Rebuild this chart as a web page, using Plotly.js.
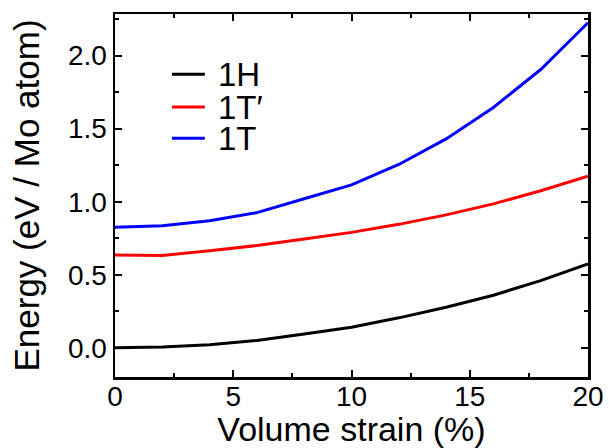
<!DOCTYPE html>
<html>
<head>
<meta charset="utf-8">
<script src="https://cdn.plot.ly/plotly-3.0.1.min.js"></script>
<style>html,body{margin:0;padding:0;background:#fff;}#chart{width:609px;height:448px;}</style>
</head>
<body>
<div id="chart"></div>
<script>
const strain = [0, 2, 4, 6, 8, 10, 12, 14, 16, 18, 20];
const energy1H = [0.0, 0.005, 0.02, 0.05, 0.095, 0.14, 0.205, 0.278, 0.36, 0.46, 0.575];
const energy1Tp = [0.635, 0.632, 0.665, 0.70, 0.745, 0.79, 0.845, 0.91, 0.985, 1.075, 1.175];
const energy1T = [0.825, 0.835, 0.87, 0.925, 1.02, 1.115, 1.255, 1.43, 1.645, 1.905, 2.225];
const seriesNames = ['1H', '1T\u2032', '1T'];
const seriesColors = ['#000000', '#ff0000', '#0000ff'];
const seriesValues = [energy1H, energy1Tp, energy1T];

const FONT = 'Liberation Sans, Arial, sans-serif';

const traces = seriesValues.map((vals, i) => ({
  x: strain, y: vals, type: 'scatter', mode: 'lines', name: seriesNames[i],
  line: {color: seriesColors[i], width: 3}, showlegend: false
}));

// manual legend (compact spacing like the reference)
const legX0 = 0.1205, legX1 = 0.19, legTextX = 0.2135;
const legY = [0.834, 0.744, 0.658];
const shapes = [], annotations = [];
seriesNames.forEach((n, i) => {
  shapes.push({type: 'line', xref: 'paper', yref: 'paper', x0: legX0, x1: legX1, y0: legY[i], y1: legY[i],
    line: {color: seriesColors[i], width: 3}});
  annotations.push({xref: 'paper', yref: 'paper', x: legTextX, y: legY[i], xanchor: 'left', yanchor: 'middle',
    height: 30, valign: 'middle',
    text: n, showarrow: false, font: {family: FONT, size: 33, color: '#000'}});
});

const axisCommon = {
  showline: true, linecolor: '#000', linewidth: 2.5, mirror: 'ticks',
  ticks: 'inside', ticklen: 7, tickwidth: 2, tickcolor: '#000',
  showgrid: false, zeroline: false,
  tickfont: {family: FONT, size: 28, color: '#000'}
};

const layout = {
  width: 609, height: 448,
  margin: {l: 115, r: 21, t: 14, b: 71},
  paper_bgcolor: '#fff', plot_bgcolor: '#fff',
  font: {family: FONT, color: '#000'},
  xaxis: Object.assign({}, axisCommon, {
    range: [0, 20], dtick: 5, tick0: 0, ticklabelstandoff: -7,
    minor: {dtick: 2.5, ticks: 'inside', ticklen: 4, tickwidth: 2, tickcolor: '#000', showgrid: false},
    title: {text: 'Volume strain (%)', font: {family: FONT, size: 34, color: '#000'}, standoff: 8}
  }),
  yaxis: Object.assign({}, axisCommon, {
    range: [-0.2, 2.285], dtick: 0.5, tick0: 0, tickformat: '.1f',
    minor: {dtick: 0.25, ticks: 'inside', ticklen: 4, tickwidth: 2, tickcolor: '#000', showgrid: false},
    title: {text: 'Energy (eV / Mo atom)', font: {family: FONT, size: 35, color: '#000'}, standoff: 18}
  }),
  shapes: shapes,
  annotations: annotations,
  showlegend: false
};

Plotly.newPlot('chart', traces, layout, {displayModeBar: false, staticPlot: true});
</script>
</body>
</html>
